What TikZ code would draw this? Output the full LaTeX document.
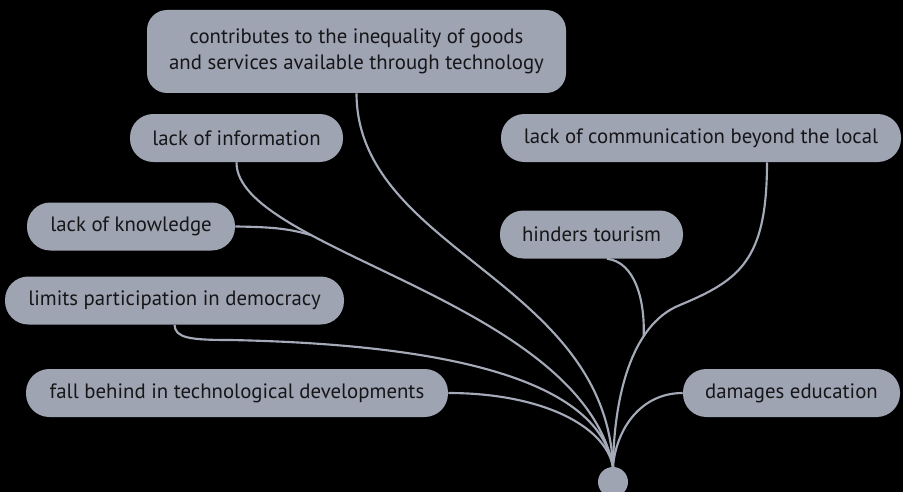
\documentclass[tikz,border=0pt]{standalone}
\usepackage{fontspec}
\setmainfont{PT Sans}
\usetikzlibrary{calc}
\definecolor{boxgray}{RGB}{159,164,179}
\definecolor{linegray}{RGB}{165,170,185}
\definecolor{txt}{RGB}{22,22,25}
\begin{document}
\begin{tikzpicture}[x=0.75pt,y=-0.75pt,
  pill/.style={fill=boxgray, text=txt, rounded corners=17.5pt, minimum height=36pt, inner sep=0pt, font=\fontsize{15.6}{19}\selectfont},
  link/.style={draw=linegray, line width=1.6pt}]
\useasboundingbox (0,0) rectangle (903,492);
\fill[black] (0,0) rectangle (903,492);

\node[pill, minimum width=314.25pt, minimum height=62.25pt, rounded corners=15pt, align=center] (top) at (356.5,51.5) {contributes to the inequality of goods\\and services available through technology};
\node[pill, minimum width=159.75pt] (info) at (236.5,138) {lack of information};
\node[pill, minimum width=300pt] (comms) at (701,138) {lack of communication beyond the local};
\node[pill, minimum width=156pt] (know) at (131,226.5) {lack of knowledge};
\node[pill, minimum width=137.25pt] (hind) at (591.5,234.5) {hinders tourism};
\node[pill, minimum width=254.25pt] (limits) at (174.5,300.5) {limits participation in democracy};
\node[pill, minimum width=316.5pt] (fall) at (237,393) {fall behind in technological developments};
\node[pill, minimum width=162.75pt] (damg) at (791.5,393) {damages education};
\node[circle, fill=boxgray, minimum size=22.5pt, inner sep=0pt] (hub) at (613,482) {};

\draw[link] (top.south) .. controls (357,250) and (605,280) .. (hub.north);
\draw[link] (info.south) .. controls (236,250) and (580,300) .. (hub.north) coordinate[pos=0.3] (m1);
\draw[link] (know.east) .. controls (275,227) and (290,229) .. (m1);
\draw[link] (limits.south) .. controls (175,338) and (190,340) .. (230,340) .. controls (480,345) and (600,390) .. (hub.north);
\draw[link] (fall.east) .. controls (540,393) and (605,425) .. (hub.north);
\draw[link] (damg.west) .. controls (640,393) and (616,430) .. (hub.north);
\draw[link] ($(comms.south)+(66,0)$) .. controls (767,260) and (740,280) .. (680,305) .. controls (630,325) and (614,400) .. (hub.north) coordinate[pos=0.3] (m2);
\draw[link] ($(hind.south)+(15.5,0)$) .. controls (635,262) and (645,300) .. (m2);
\end{tikzpicture}
\end{document}
